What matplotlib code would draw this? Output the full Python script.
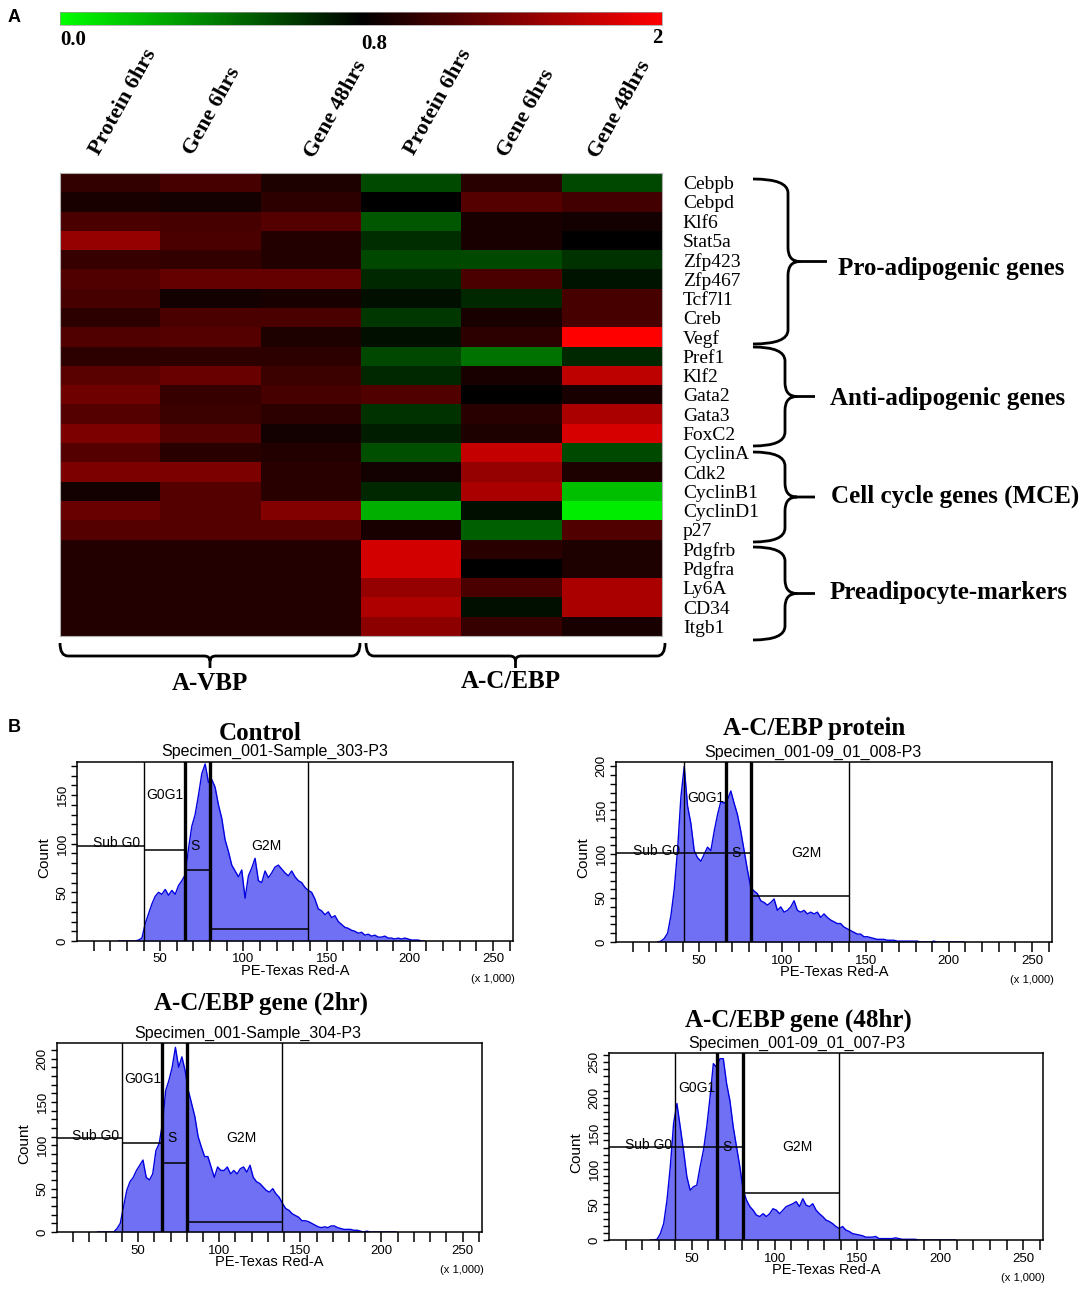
import numpy as np
import matplotlib
matplotlib.use("Agg")
import matplotlib.pyplot as plt
from matplotlib.colors import LinearSegmentedColormap, TwoSlopeNorm
from matplotlib.path import Path
from matplotlib.patches import PathPatch

W, H = 1084, 1294

# ---------- heatmap data (fold change) ----------
genes = ["Cebpb", "Cebpd", "Klf6", "Stat5a", "Zfp423", "Zfp467", "Tcf7l1", "Creb", "Vegf",
         "Pref1", "Klf2", "Gata2", "Gata3", "FoxC2",
         "CyclinA", "Cdk2", "CyclinB1", "CyclinD1", "p27",
         "Pdgfrb", "Pdgfra", "Ly6A", "CD34", "Itgb1"]
conditions = ["Protein 6hrs", "Gene 6hrs", "Gene 48hrs", "Protein 6hrs", "Gene 6hrs", "Gene 48hrs"]

avbp_protein_6h = [1.04, 0.92, 1.15, 1.50, 1.06, 1.18, 1.13, 1.01, 1.18, 1.01, 1.22, 1.32,
                   1.20, 1.39, 1.20, 1.39, 0.89, 1.29, 1.20, 0.96, 0.96, 0.96, 0.96, 0.96]
avbp_gene_6h = [1.13, 0.89, 1.13, 1.15, 1.04, 1.27, 0.89, 1.15, 1.20, 1.01, 1.29, 1.06,
                1.08, 1.20, 0.99, 1.39, 1.20, 1.20, 1.20, 0.96, 0.96, 0.96, 0.96, 0.96]
avbp_gene_48h = [0.94, 1.01, 1.20, 0.96, 0.96, 1.27, 0.92, 1.15, 0.94, 1.01, 1.08, 1.13,
                 1.01, 0.89, 0.96, 0.99, 0.99, 1.41, 1.20, 0.96, 0.96, 0.96, 0.96, 0.96]
acebp_protein_6h = [0.57, 0.80, 0.53, 0.66, 0.58, 0.67, 0.75, 0.63, 0.75, 0.58, 0.67, 1.18,
                    0.64, 0.71, 0.55, 0.89, 0.67, 0.25, 0.92, 1.79, 1.79, 1.50, 1.62, 1.46]
acebp_gene_6h = [0.99, 1.20, 0.92, 0.92, 0.57, 1.15, 0.67, 0.92, 1.01, 0.44, 0.92, 0.80,
                 0.99, 0.94, 1.72, 1.50, 1.60, 0.75, 0.50, 0.99, 0.80, 1.15, 0.75, 1.06]
acebp_gene_48h = [0.58, 1.11, 0.89, 0.80, 0.64, 0.74, 1.13, 1.13, 2.00, 0.67, 1.69, 0.92,
                  1.60, 1.81, 0.57, 0.94, 0.20, 0.06, 1.18, 0.94, 0.94, 1.60, 1.60, 0.92]

groups = ["Pro-adipogenic genes", "Anti-adipogenic genes", "Cell cycle genes (MCE)", "Preadipocyte-markers"]

# ---------- flow cytometry histograms (counts per 2k bin, 24k..210k) ----------
bin_edges = np.arange(24, 212, 2)
control_counts = [0, 0, 0, 0, 0, 0, 1, 3, 18, 28,
                  38, 46, 50, 48, 53, 47, 52, 48, 57, 62,
                  68, 95, 118, 130, 150, 172, 182, 163, 166, 158,
                  140, 126, 104, 92, 78, 72, 66, 73, 44, 67,
                  75, 85, 62, 60, 72, 65, 70, 76, 78, 74,
                  70, 67, 72, 66, 62, 60, 55, 52, 50, 43,
                  33, 31, 27, 30, 24, 26, 20, 17, 14, 13,
                  11, 10, 8, 9, 6, 7, 5, 6, 4, 4,
                  5, 3, 3, 2, 3, 2, 3, 2, 1, 1,
                  1, 0, 0]
protein_counts = [0, 1, 4, 10, 30, 60, 105, 165, 200, 155,
                  135, 104, 96, 92, 100, 108, 104, 126, 145, 160,
                  158, 162, 172, 158, 145, 126, 104, 82, 62, 58,
                  55, 47, 45, 42, 45, 49, 36, 40, 34, 36,
                  40, 47, 36, 34, 36, 32, 34, 32, 34, 28,
                  32, 28, 25, 23, 21, 21, 17, 15, 13, 11,
                  9, 9, 6, 6, 5, 4, 3, 3, 3, 2,
                  2, 2, 1, 1, 1, 1, 1, 1, 1, 0,
                  0, 0, 0, 1, 0, 0, 0, 0, 0, 0,
                  0, 0, 0]
gene2h_counts = [0, 0, 0, 0, 0, 0, 4, 10, 29, 48,
                 58, 63, 71, 77, 83, 63, 60, 67, 94, 102,
                 125, 163, 175, 190, 213, 190, 202, 186, 163, 148,
                 133, 110, 98, 87, 87, 75, 63, 75, 71, 71,
                 75, 67, 71, 67, 73, 75, 69, 77, 63, 58,
                 56, 52, 48, 46, 50, 44, 40, 33, 27, 25,
                 21, 19, 17, 13, 13, 12, 10, 8, 6, 5,
                 6, 5, 7, 7, 5, 4, 3, 3, 3, 2,
                 2, 1, 0, 1, 0, 0, 0, 0, 0, 0,
                 0, 0, 0]
gene48h_counts = [0, 0, 1, 9, 23, 56, 103, 164, 192, 159,
                  126, 89, 70, 75, 77, 103, 126, 159, 201, 248,
                  243, 255, 255, 220, 196, 159, 131, 103, 70, 56,
                  47, 42, 35, 33, 37, 33, 37, 44, 42, 37,
                  42, 47, 49, 51, 54, 47, 58, 49, 47, 51,
                  42, 37, 33, 28, 26, 23, 19, 16, 19, 14,
                  12, 9, 8, 7, 6, 4, 4, 4, 5, 2,
                  2, 2, 2, 2, 3, 2, 1, 1, 1, 1,
                  1, 0, 0, 0, 0, 0, 0, 0, 0, 0,
                  0, 0, 0]

panel_titles = ["Control", "A-C/EBP protein", "A-C/EBP gene (2hr)", "A-C/EBP gene (48hr)"]
specimens = ["Specimen_001-Sample_303-P3", "Specimen_001-09_01_008-P3",
             "Specimen_001-Sample_304-P3", "Specimen_001-09_01_007-P3"]
y_max = [184, 205, 218, 263]
# gate boundaries (x1000) and horizontal gate levels: Sub G0, G0G1, S, G2M
gate_x = [[40, 65, 80, 139], [41, 66, 81, 140], [40, 65, 80, 139], [40, 65, 81, 139]]
gate_y = [[98, 94, 73, 12], [101, 101, 101, 52], [108, 103, 80, 12], [131, 131, 131, 66]]
g0g1_label_y = [150, 164, 177, 214]

SERIF = "Liberation Serif"
SANS = "Liberation Sans"

fig = plt.figure(figsize=(W / 100, H / 100), dpi=100)

# overlay in pixel coordinates for braces and free text
ov = fig.add_axes([0, 0, 1, 1])
ov.set_xlim(0, W)
ov.set_ylim(H, 0)
ov.axis("off")


def px_axes(l, t, r, b):
    return fig.add_axes([l / W, 1 - b / H, (r - l) / W, (b - t) / H])


def vbrace(x0, y0, y1, xs, xt, r=14):
    ym = (y0 + y1) / 2
    verts = [(x0, y0), (xs, y0), (xs, y0 + r), (xs, ym - r), (xs, ym), (xs + 12, ym), (xt, ym),
             (xs + 12, ym), (xs, ym), (xs, ym + r), (xs, y1 - r), (xs, y1), (x0, y1)]
    codes = [Path.MOVETO, Path.CURVE3, Path.CURVE3, Path.LINETO, Path.CURVE3, Path.CURVE3, Path.LINETO,
             Path.MOVETO, Path.CURVE3, Path.CURVE3, Path.LINETO, Path.CURVE3, Path.CURVE3]
    ov.add_patch(PathPatch(Path(verts, codes), fill=False, lw=2.0, color="black"))


def hbrace(x0, x1, y0, ys, yt, r=8):
    xm = (x0 + x1) / 2
    verts = [(x0, y0), (x0, ys), (x0 + r, ys), (xm - 6, ys), (xm, ys), (xm, ys + 5), (xm, yt),
             (xm, ys + 5), (xm, ys), (xm + 6, ys), (x1 - r, ys), (x1, ys), (x1, y0)]
    codes = [Path.MOVETO, Path.CURVE3, Path.CURVE3, Path.LINETO, Path.CURVE3, Path.CURVE3, Path.LINETO,
             Path.MOVETO, Path.CURVE3, Path.CURVE3, Path.LINETO, Path.CURVE3, Path.CURVE3]
    ov.add_patch(PathPatch(Path(verts, codes), fill=False, lw=2.0, color="black"))


# ---------------- panel A: heatmap ----------------
data = np.array([avbp_protein_6h, avbp_gene_6h, avbp_gene_48h,
                 acebp_protein_6h, acebp_gene_6h, acebp_gene_48h]).T
cmap = LinearSegmentedColormap.from_list("gkr", [(0, "#00ff00"), (0.5, "#000000"), (1, "#ff0000")])
norm = TwoSlopeNorm(vmin=0, vcenter=0.8, vmax=2)

ax = px_axes(60, 173, 662, 636)
im = ax.imshow(data, cmap=cmap, norm=norm, aspect="auto", interpolation="nearest")
ax.set_xticks([])
ax.yaxis.tick_right()
ax.set_yticks(range(len(genes)))
ax.set_yticklabels(genes, fontsize=14, fontfamily=SERIF)
ax.tick_params(axis="y", length=0, pad=15)
for s in ax.spines.values():
    s.set_color("#b0b0b0")
    s.set_linewidth(0.8)

cax = px_axes(60, 12, 662, 25)
cb = fig.colorbar(im, cax=cax, orientation="horizontal")
cb.set_ticks([])
cb.outline.set_linewidth(0.5)
cb.outline.set_edgecolor("#999999")
tr = cax.get_xaxis_transform()
bold_serif = dict(fontfamily=SERIF, fontweight="bold")
cax.text(0.0, -0.35, "0.0", transform=tr, ha="left", va="top", fontsize=15, **bold_serif)
cax.text(0.8, -0.7, "0.8", transform=tr, ha="left", va="top", fontsize=15, **bold_serif)
cax.text(2.0, -0.25, "2", transform=tr, ha="right", va="top", fontsize=15, **bold_serif)

# column headers
col_anchor = [(103, 158), (197, 158), (318, 161), (418, 158), (511, 160), (602, 161)]
for (x, y), lab in zip(col_anchor, conditions):
    ov.text(x, y, lab, rotation=61, rotation_mode="anchor", ha="left", va="bottom",
            fontsize=16, **bold_serif)

# gene group braces
vbrace(753, 179, 344, 788, 827)
vbrace(753, 347, 446, 785, 815)
vbrace(753, 452, 542, 785, 815)
vbrace(753, 547, 640, 785, 815)
for (x, y), lab in zip([(838, 268), (830, 399), (831, 496), (830, 592)], groups):
    ov.text(x, y, lab, ha="left", va="center", fontsize=18, **bold_serif)

hbrace(60, 360, 643, 656, 668)
hbrace(366, 665, 643, 656, 668)
ov.text(210, 684, "A-VBP", ha="center", va="center", fontsize=18, **bold_serif)
ov.text(511, 681, "A-C/EBP", ha="center", va="center", fontsize=18, **bold_serif)

ov.text(14, 18, "A", ha="center", va="center", fontsize=13, fontweight="bold", fontfamily=SANS)
ov.text(14, 727, "B", ha="center", va="center", fontsize=13, fontweight="bold", fontfamily=SANS)

# ---------------- panel B: cell cycle histograms ----------------
boxes = [(77, 762, 513, 941), (616, 762, 1052, 942), (57, 1043, 482, 1232), (609, 1053, 1043, 1240)]
title_pos = [(260, 733), (814, 729), (261, 1003), (798, 1020)]
spec_pos = [(275, 751), (813, 752), (248, 1033), (797, 1043)]
all_counts = [control_counts, protein_counts, gene2h_counts, gene48h_counts]
centers = (bin_edges[:-1] + bin_edges[1:]) / 2

for i in range(4):
    ax = px_axes(*boxes[i])
    ax.fill_between(centers, all_counts[i], 0, color="#7070f5", lw=0, zorder=1)
    ax.plot(centers, all_counts[i], color="#0000e0", lw=1.0, zorder=2)
    ax.set_xlim(0, 262)
    ax.set_ylim(0, y_max[i])

    gx, gy = gate_x[i], gate_y[i]
    for k, x in enumerate(gx):
        ax.axvline(x, color="black", lw=2.4 if k in (1, 2) else 1.0, zorder=3)
    ax.hlines(gy[0], 0, gx[0], color="black", lw=1.1, zorder=3)
    ax.hlines(gy[1], gx[0], gx[1], color="black", lw=1.1, zorder=3)
    ax.hlines(gy[2], gx[1], gx[2], color="black", lw=1.1, zorder=3)
    ax.hlines(gy[3], gx[2], gx[3], color="black", lw=1.1, zorder=3)

    lab_kw = dict(fontsize=10, fontfamily=SANS, ha="center", va="center", zorder=4)
    ax.text(gx[0] / 2 + 4, gy[0] + 3, "Sub G0", **lab_kw)
    ax.text(gx[0] + 13, g0g1_label_y[i], "G0G1", **lab_kw)
    ax.text(gx[1] + 6, gy[0], "S", **lab_kw)
    ax.text((gx[2] + gx[3]) / 2 + 4, gy[0], "G2M", **lab_kw)

    xt = np.arange(10, 261, 10)
    ax.set_xticks(xt)
    ax.set_xticklabels([str(t) if t % 50 == 0 else "" for t in xt], fontsize=9.5, fontfamily=SANS)
    yt = np.arange(0, y_max[i], 10)
    ax.set_yticks(yt)
    ax.set_yticklabels([str(t) if t % 50 == 0 else "" for t in yt], fontsize=9.5, fontfamily=SANS,
                       rotation=90, va="center")
    ax.tick_params(axis="x", direction="out", length=7, width=1.1, pad=2)
    ax.tick_params(axis="y", direction="out", length=4, width=1.0, pad=2)
    for s in ax.spines.values():
        s.set_linewidth(1.1)

    ax.annotate("PE-Texas Red-A", (0.5, 0), xycoords="axes fraction", xytext=(0, -30),
                textcoords="offset pixels", ha="center", va="center", fontsize=10.5, fontfamily=SANS)
    ax.annotate("(x 1,000)", (1, 0), xycoords="axes fraction", xytext=(2, -38),
                textcoords="offset pixels", ha="right", va="center", fontsize=8, fontfamily=SANS)
    ax.annotate("Count", (0, 0.5), xycoords="axes fraction", xytext=(-33, -6),
                textcoords="offset pixels", ha="center", va="center", rotation=90,
                fontsize=11, fontfamily=SANS)

    ov.text(*title_pos[i], panel_titles[i], ha="center", va="center", fontsize=18, **bold_serif)
    ov.text(*spec_pos[i], specimens[i], ha="center", va="center", fontsize=11.5, fontfamily=SANS)

fig.savefig("out.png", dpi=100)
